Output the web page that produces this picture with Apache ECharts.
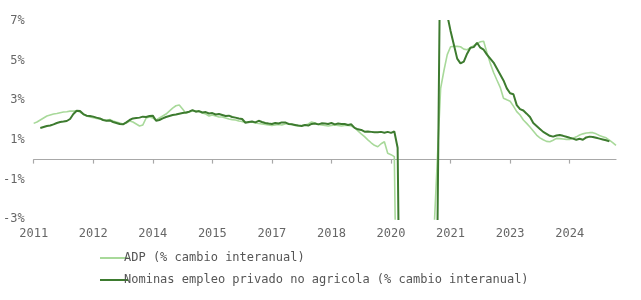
<!DOCTYPE html>
<html>
<head>
<meta charset="utf-8">
<script src="https://cdn.jsdelivr.net/npm/echarts@6/dist/echarts.min.js"></script>
<style>
html,body{margin:0;padding:0;background:#fff;}
#chart{width:641px;height:300px;}
</style>
</head>
<body>
<div id="chart"></div>
<script>
// Monthly categories: Jan 2011 .. Sep 2025
const startYear = 2011;
const monthCount = 177;
const categories = [];
for (let k = 0; k < monthCount; k++) {
  const y = startYear + Math.floor(k / 12);
  const m = (k % 12) + 1;
  categories.push(y + '-' + (m < 10 ? '0' + m : m));
}

const seriesNames = [
  'ADP (% cambio interanual)',
  'Nominas empleo privado no agricola (% cambio interanual)'
];

// ADP (% yoy), one row per year
const adp = [
  1.83, 1.9, 2.0, 2.1, 2.2, 2.25, 2.3, 2.33, 2.37, 2.4, 2.42, 2.45,
  2.45, 2.47, 2.4, 2.28, 2.2, 2.15, 2.12, 2.08, 2.05, 2.0, 1.98, 2.02,
  1.95, 1.9, 1.85, 1.8, 1.85, 1.95, 1.9, 1.8, 1.7, 1.75, 2.1, 2.15,
  2.1, 2.0, 2.1, 2.2, 2.3, 2.45, 2.6, 2.72, 2.76, 2.55, 2.34, 2.4,
  2.45, 2.47, 2.42, 2.35, 2.3, 2.2, 2.25, 2.2, 2.15, 2.15, 2.1, 2.05,
  2.02, 2.0, 1.95, 1.92, 1.9, 1.88, 1.9, 1.85, 1.82, 1.8, 1.78, 1.75,
  1.72, 1.75, 1.78, 1.75, 1.8, 1.82, 1.78, 1.72, 1.7, 1.72, 1.75, 1.8,
  1.9, 1.85, 1.78, 1.75, 1.72, 1.7, 1.72, 1.75, 1.72, 1.7, 1.72, 1.72,
  1.7, 1.6, 1.45, 1.3, 1.16, 1.0, 0.85, 0.72, 0.65, 0.8, 0.9, 0.32,
  0.25, 0.15, -12, -15, -13, -11, -10, -9, -8, -7.5, -7, -6.5,
  -6, -3.6, 0.0, 3.6, 4.5, 5.3, 5.7, 5.72, 5.72, 5.7, 5.58, 5.55,
  5.65, 5.75, 5.85, 5.95, 5.98, 5.4, 4.86, 4.4, 4.02, 3.65, 3.1, 3.02,
  2.95, 2.7, 2.42, 2.25, 2.0, 1.83, 1.65, 1.45, 1.24, 1.1, 1.0, 0.92,
  0.9, 0.98, 1.07, 1.06, 1.04, 1.02, 1.02, 1.08, 1.15, 1.24, 1.3, 1.34,
  1.36, 1.36, 1.3, 1.22, 1.16, 1.1, 0.98, 0.86, 0.72
];

// Non-farm private payrolls (% yoy), one row per year
const nfp = [
  null, null, 1.6, 1.65, 1.7, 1.72, 1.78, 1.85, 1.9, 1.92, 1.95, 2.05,
  2.3, 2.47, 2.45, 2.3, 2.22, 2.2, 2.17, 2.12, 2.08, 2.0, 1.96, 1.98,
  1.9, 1.85, 1.8, 1.78, 1.88, 2.0, 2.08, 2.1, 2.12, 2.17, 2.15, 2.2,
  2.22, 1.96, 2.0, 2.08, 2.15, 2.2, 2.25, 2.28, 2.32, 2.35, 2.38, 2.42,
  2.5, 2.42, 2.45, 2.38, 2.4, 2.33, 2.35, 2.28, 2.3, 2.25, 2.2, 2.22,
  2.15, 2.12, 2.08, 2.05, 1.86, 1.9, 1.92, 1.88, 1.96, 1.9, 1.85, 1.82,
  1.8, 1.85, 1.82, 1.88, 1.88, 1.8, 1.78, 1.75, 1.72, 1.7, 1.75, 1.72,
  1.8, 1.82, 1.78, 1.83, 1.82, 1.8, 1.85, 1.78, 1.82, 1.8, 1.8, 1.75,
  1.78, 1.6, 1.53, 1.5, 1.41, 1.42, 1.4, 1.38, 1.38, 1.4, 1.36, 1.4,
  1.35, 1.42, 0.6, -14.5, -11.8, -8.7, -7.6, -6.7, -6.2, -5.7, -5.4, -5.9,
  -5.9, -5.6, -4.3, 12.8, 8.2, 7.3, 6.5, 5.8, 5.1, 4.86, 4.95, 5.35,
  5.65, 5.68, 5.9, 5.65, 5.55, 5.3, 5.1, 4.9, 4.6, 4.3, 4.0, 3.6,
  3.35, 3.3, 2.75, 2.55, 2.48, 2.32, 2.15, 1.85, 1.7, 1.55, 1.4, 1.3,
  1.2, 1.16, 1.22, 1.24, 1.2, 1.15, 1.1, 1.06, 1.0, 1.05, 1.0, 1.12,
  1.16, 1.14, 1.1, 1.06, 1.02, 0.98, 0.92, null, null
];

const yMin = -3, yMax = 7, yStep = 2;
const labelEvery = 18;

const FONT = 'DejaVu Sans Mono';
const AXIS_GREY = '#a8a8a8';

const chart = echarts.init(document.getElementById('chart'), null, {renderer: 'canvas'});
chart.setOption({
  animation: false,
  backgroundColor: '#ffffff',
  textStyle: {fontFamily: FONT},
  grid: {left: 32, right: 25, top: 21, bottom: 81, containLabel: false},
  legend: {
    orient: 'vertical',
    left: 95,
    top: 246,
    itemWidth: 28,
    itemHeight: 2,
    itemGap: 8,
    icon: 'rect',
    textStyle: {fontFamily: FONT, fontSize: 12, color: '#555', lineHeight: 14, padding: [0, 0, 0, -9]},
    data: seriesNames
  },
  xAxis: [
    {
      // data axis: its line sits on y = 0, with ticks at the labelled months
      type: 'category',
      data: categories,
      boundaryGap: false,
      axisLine: {show: true, onZero: true, lineStyle: {color: AXIS_GREY, width: 1.2}},
      axisTick: {show: true, interval: labelEvery - 1, length: 4, lineStyle: {color: AXIS_GREY, width: 1.2}},
      axisLabel: {show: false},
      splitLine: {show: false}
    },
    {
      // label axis at the bottom of the plot
      type: 'category',
      data: categories,
      boundaryGap: false,
      position: 'bottom',
      axisLine: {show: false, onZero: false},
      axisTick: {show: false},
      splitLine: {show: false},
      axisLabel: {
        show: true,
        interval: labelEvery - 1,
        margin: 9,
        fontFamily: FONT,
        fontSize: 12,
        color: '#666',
        formatter: v => v.slice(0, 4)
      }
    }
  ],
  yAxis: {
    type: 'value',
    min: yMin,
    max: yMax,
    interval: yStep,
    axisLine: {show: false},
    axisTick: {show: false},
    splitLine: {show: false},
    axisLabel: {
      margin: 9,
      fontFamily: FONT,
      fontSize: 12,
      color: '#666',
      formatter: '{value}%'
    }
  },
  series: [
    {
      name: seriesNames[0],
      type: 'line',
      data: adp,
      symbol: 'none',
      clip: true,
      color: '#a8d99a',
      lineStyle: {color: '#a8d99a', width: 1.6}
    },
    {
      name: seriesNames[1],
      type: 'line',
      data: nfp,
      symbol: 'none',
      clip: true,
      color: '#3d7b2f',
      lineStyle: {color: '#3d7b2f', width: 2}
    }
  ]
});
</script>
</body>
</html>
